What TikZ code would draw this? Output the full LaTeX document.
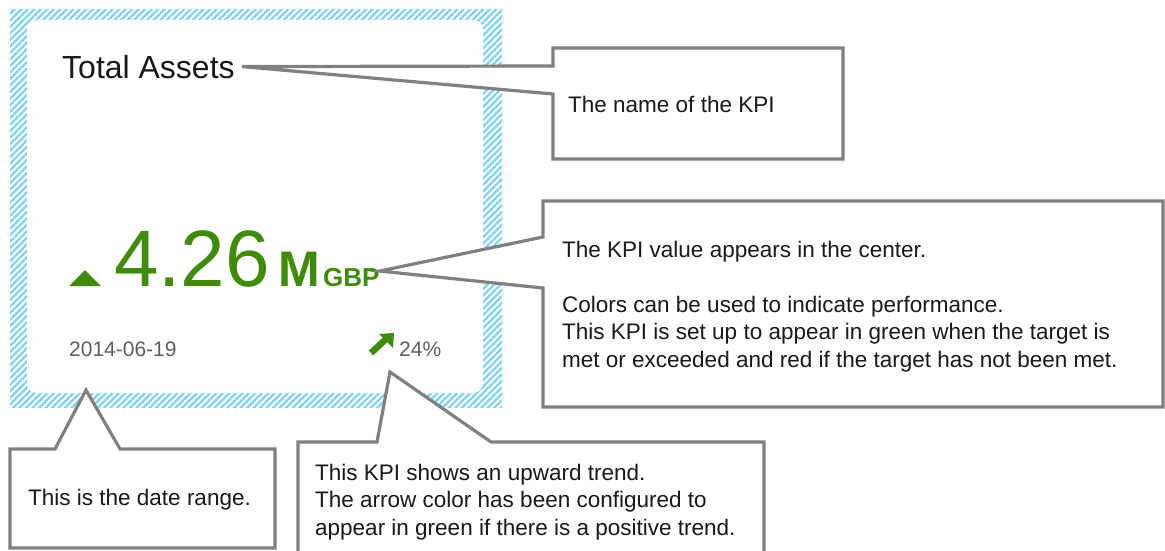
\documentclass[tikz,border=0pt]{standalone}
\usepackage{fontspec}
\setmainfont{Liberation Sans}
\usetikzlibrary{patterns.meta}
\definecolor{kpigreen}{RGB}{62,140,10}
\definecolor{hatchblue}{RGB}{130,210,245}
\definecolor{calloutgray}{RGB}{128,128,128}
\definecolor{dategray}{RGB}{95,95,95}
\tikzset{
  callout/.style={draw=calloutgray,line width=3.2pt,fill=white,line join=miter},
  note/.style={anchor=base west,inner sep=0pt,align=left,text=black!90,
    font=\fontsize{22.5}{27.3}\selectfont},
}
\begin{document}
\begin{tikzpicture}[x=1pt,y=-1pt]
  \useasboundingbox (0,0) rectangle (1165,551);
  % kpi tile
  \pattern[pattern={Lines[angle=45,distance=4.6pt,line width=2.3pt]},pattern color=hatchblue]
    (10,10) rectangle (502,407);
  \fill[white,rounded corners=10pt] (27,20) rectangle (483,393);
  \node[anchor=base west,inner sep=0pt,text=black!90,font=\fontsize{32}{32}\selectfont] (title) at (62,78) {Total Assets};
  \fill[kpigreen] (69,286) -- (85,270) -- (101,286) -- cycle;
  \node[anchor=base west,inner sep=0pt,text=kpigreen,font=\fontsize{80}{80}\selectfont] (value) at (114,286) {4.26};
  \node[anchor=base west,inner sep=0pt,text=kpigreen,font=\bfseries\fontsize{50}{50}\selectfont] (mult) at (278,286) {M};
  \node[anchor=base west,inner sep=0pt,text=kpigreen,font=\bfseries\fontsize{26}{26}\selectfont] (unit) at (323,286) {GBP};
  \node[anchor=base west,inner sep=0pt,text=dategray,font=\fontsize{21}{21}\selectfont] (date) at (69,356) {2014-06-19};
  \node[anchor=base west,inner sep=0pt,text=dategray,font=\fontsize{21}{21}\selectfont] (change) at (399,356) {24\%};
  \draw[kpigreen,line width=6.5pt] (371,353) -- (386,339);
  \fill[kpigreen] (394,333) -- (379,334) -- (393,348) -- cycle;
  % pointer tips
  \coordinate (nametip) at ([xshift=7pt]title.east);
  \coordinate (valuetip) at ([yshift=6pt]unit.east);
  \coordinate (datetip) at (86,390);
  \coordinate (trendtip) at (390,372);
  % callouts
  \draw[callout] (553,48) -- (843,48) -- (843,159) -- (553,159) -- (553,94) -- (nametip) -- (553,66) -- cycle;
  \node[note] (namenote) at (568,112) {The name of the KPI};
  \draw[callout] (543,201) -- (1163,201) -- (1163,407) -- (543,407) -- (543,288) -- (valuetip) -- (543,237) -- cycle;
  \node[note] (valuenote) at (562,367) {The KPI value appears in the center.\\[27.3pt]
    Colors can be used to indicate performance.\\
    This KPI is set up to appear in green when the target is\\
    met or exceeded and red if the target has not been met.};
  \draw[callout] (10,449) -- (55,449) -- (datetip) -- (120,449) -- (275,449) -- (275,548) -- (10,548) -- cycle;
  \node[note] (datenote) at (28,505) {This is the date range.};
  \draw[callout] (298,442) -- (377,442) -- (trendtip) -- (491,442) -- (764,442) -- (764,560) -- (298,560) -- cycle;
  \node[note] (trendnote) at (315,535) {This KPI shows an upward trend.\\
    The arrow color has been configured to\\
    appear in green if there is a positive trend.};
\end{tikzpicture}
\end{document}
